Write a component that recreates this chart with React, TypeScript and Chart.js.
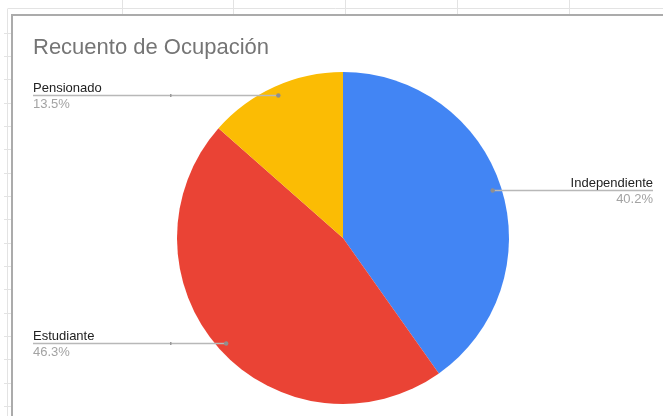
import React, { useEffect, useRef } from "react";
import { Chart, registerables } from "chart.js";

Chart.register(...registerables);

const TITLE = "Recuento de Ocupación";
const categories = ["Independiente", "Estudiante", "Pensionado"];
const values = [40.2, 46.3, 13.5];
const colors = ["#4285F4", "#EA4335", "#FBBC04"];

const FONT = '"Liberation Sans", Arial, sans-serif';

const backgroundPlugin = {
  id: "sheetBackground",
  beforeDraw(chart: any) {
    const { ctx, width, height } = chart;
    ctx.save();
    ctx.fillStyle = "#ffffff";
    ctx.fillRect(0, 0, width, height);
    // spreadsheet grid outside chart
    ctx.strokeStyle = "#e3e3e3";
    ctx.lineWidth = 1;
    ctx.beginPath();
    ctx.moveTo(8, 8.5);
    ctx.lineTo(width, 8.5);
    ctx.moveTo(7.5, 8.5);
    ctx.lineTo(7.5, height);
    for (const x of [122.5, 233.5, 345.5, 457.5, 569.5]) {
      ctx.moveTo(x, 0);
      ctx.lineTo(x, 14);
    }
    for (let y = 32.5; y < height; y += 23.35) {
      const yy = Math.round(y) + 0.5;
      ctx.moveTo(4, yy);
      ctx.lineTo(11, yy);
    }
    ctx.stroke();
    // chart border
    ctx.strokeStyle = "#ababab";
    ctx.lineWidth = 2;
    ctx.beginPath();
    ctx.moveTo(12, height);
    ctx.lineTo(12, 15);
    ctx.lineTo(width, 15);
    ctx.stroke();
    ctx.restore();
  },
  afterDraw(chart: any) {
    const { ctx } = chart;
    ctx.save();
    // title
    ctx.fillStyle = "#757575";
    ctx.font = `22px ${FONT}`;
    ctx.textBaseline = "alphabetic";
    ctx.textAlign = "left";
    ctx.fillText(TITLE, 33, 53.5);

    const meta = chart.getDatasetMeta(0);
    const data = chart.data.datasets[0].data as number[];
    const total = data.reduce((a, b) => a + b, 0);
    meta.data.forEach((arc: any, i: number) => {
      const p = arc.getProps(["x", "y", "startAngle", "endAngle", "outerRadius"], true);
      const mid = (p.startAngle + p.endAngle) / 2;
      const r = p.outerRadius * 0.946;
      const dx = p.x + Math.cos(mid) * r;
      const dy = Math.round(p.y + Math.sin(mid) * r) + 0.5;
      const right = Math.cos(mid) > 0;
      const lx0 = right ? dx : 33;
      const lx1 = right ? 653 : dx;
      ctx.strokeStyle = "#b8b8b8";
      ctx.lineWidth = 1.5;
      ctx.beginPath();
      ctx.moveTo(lx0, dy);
      ctx.lineTo(lx1, dy);
      ctx.stroke();
      if (!right) {
        ctx.fillStyle = "#9a9a9a";
        ctx.fillRect(170, dy - 1.5, 1.5, 3);
      }
      ctx.fillStyle = "#8f8f8f";
      ctx.beginPath();
      ctx.arc(dx, dy, 2.2, 0, Math.PI * 2);
      ctx.fill();

      const pct = ((data[i] / total) * 100).toFixed(1) + "%";
      ctx.textAlign = right ? "right" : "left";
      const tx = right ? 653 : 33;
      ctx.font = `13px ${FONT}`;
      ctx.fillStyle = "#222222";
      ctx.fillText(chart.data.labels[i], tx, dy - 4);
      ctx.fillStyle = "#a3a3a3";
      ctx.fillText(pct, tx, dy + 12.5);
    });
    ctx.restore();
  },
};

export default function App() {
  const ref = useRef<HTMLCanvasElement | null>(null);
  useEffect(() => {
    document.body.style.margin = "0";
    const canvas = ref.current!;
    const chart = new Chart(canvas, {
      type: "pie",
      data: {
        labels: categories,
        datasets: [
          {
            data: values,
            backgroundColor: colors,
            borderWidth: 0,
          },
        ],
      },
      options: {
        responsive: false,
        animation: false,
        devicePixelRatio: 1,
        layout: { padding: { left: 177, right: 154, top: 72, bottom: 12 } },
        plugins: {
          legend: { display: false },
          tooltip: { enabled: false },
          title: { display: false },
        },
      },
      plugins: [backgroundPlugin],
    });
    return () => chart.destroy();
  }, []);
  return (
    <div style={{ position: "absolute", left: 0, top: 0, width: 663, height: 416 }}>
      <canvas ref={ref} width={663} height={416} style={{ display: "block" }} />
    </div>
  );
}
